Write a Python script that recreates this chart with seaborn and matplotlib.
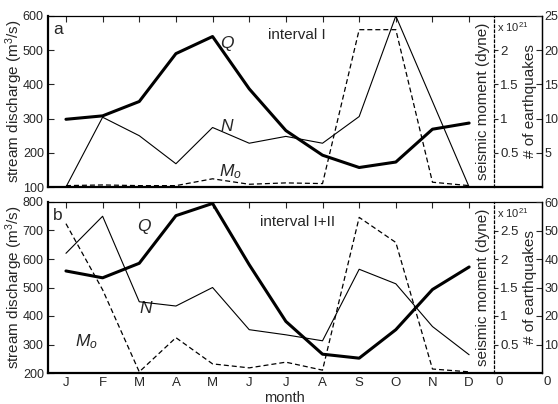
import matplotlib
matplotlib.use("Agg")
import matplotlib.pyplot as plt
import seaborn as sns
import pandas as pd

# month axis
months = ["J", "F", "M", "A", "M", "J", "J", "A", "S", "O", "N", "D"]
month_pos = list(range(12))

# interval I
q_interval1 = [298, 308, 350, 490, 540, 387, 265, 193, 157, 173, 269, 287]
n_interval1 = [0, 10.2, 7.5, 3.4, 8.7, 6.4, 7.4, 6.4, 10.3, 25, 12.5, 0]
mo_interval1 = [0.02, 0.03, 0.02, 0.02, 0.12, 0.04, 0.06, 0.05, 2.30, 2.30, 0.07, 0.02]

# interval I+II
q_interval12 = [558, 534, 585, 752, 795, 580, 381, 266, 252, 352, 493, 572]
n_interval12 = [42, 55, 25, 23.5, 30, 15.2, 13.4, 11.3, 36.4, 31.3, 16.3, 6.4]
mo_interval12 = [2.62, 1.46, 0.02, 0.62, 0.16, 0.09, 0.19, 0.05, 2.73, 2.29, 0.07, 0.02]

# axis ranges / ticks
q_ticks1 = [100, 200, 300, 400, 500, 600]
q_ticks12 = [200, 300, 400, 500, 600, 700, 800]
n_ticks1 = [5, 10, 15, 20, 25]
n_ticks12 = [10, 20, 30, 40, 50, 60]
mo_ticks1 = [0.5, 1, 1.5, 2]
mo_ticks12 = [0.5, 1, 1.5, 2, 2.5]

sns.set_theme(style="white")
plt.rcParams["font.family"] = ["Liberation Sans", "DejaVu Sans"]
plt.rcParams["mathtext.fontset"] = "custom"
plt.rcParams["mathtext.rm"] = "Liberation Sans"
plt.rcParams["mathtext.it"] = "Liberation Sans:italic"
plt.rcParams["axes.edgecolor"] = "black"

fig = plt.figure(figsize=(5.58, 4.04), dpi=100)

XLIM = (-0.49, 12.98)
MO_SPINE_X = 11.68


def draw_panel(rect, q, n, mo, q_ticks, n_ticks, n_max, mo_ticks, mo_max,
               letter, title, title_y, q_xy, n_xy, mo_xy, bottom):
    ax = fig.add_axes(rect)
    df = pd.DataFrame({"month": month_pos, "Q": q, "N": n, "Mo": mo})

    sns.lineplot(data=df, x="month", y="Q", ax=ax, color="black",
                 linewidth=2.2, legend=False)
    ax.set_xlim(*XLIM)
    ax.set_ylim(q_ticks[0], q_ticks[-1])
    ax.set_yticks(q_ticks)
    ax.set_xticks(month_pos)
    ax.set_xticklabels(months if bottom else [])
    ax.tick_params(axis="x", direction="in", top=True, length=4, pad=3,
                   labelsize=9.5, width=0.8)
    ax.tick_params(axis="y", direction="in", length=4, pad=3,
                   labelsize=9, width=0.8)
    ax.set_ylabel("")
    ax.text(-0.069, 0.5, "stream discharge (m$^3$/s)", transform=ax.transAxes,
            rotation=90, ha="center", va="center", fontsize=11)
    if bottom:
        ax.set_xlabel("month", fontsize=10.5)
        ax.xaxis.set_label_coords(0.478, -0.107)
    else:
        ax.set_xlabel("")
    for side in ["top", "right"]:
        ax.spines[side].set_linewidth(0.9)
    for side in ["left", "bottom"]:
        ax.spines[side].set_linewidth(1.6)

    # number of earthquakes (right axis)
    ax_n = ax.twinx()
    sns.lineplot(data=df, x="month", y="N", ax=ax_n, color="black",
                 linewidth=0.8, legend=False)
    ax_n.set_ylim(0, n_max)
    ax_n.set_yticks(n_ticks)
    ax_n.tick_params(axis="y", direction="in", length=4, pad=2,
                     labelsize=9, width=0.8)
    for side in ["left", "top", "bottom"]:
        ax_n.spines[side].set_visible(False)
    ax_n.spines["right"].set_linewidth(0.9)
    ax_n.set_ylabel("")
    ax.text(0.976, 0.5, "# of earthquakes", transform=ax.transAxes,
            rotation=90, ha="center", va="center", fontsize=11)

    # seismic moment (inner dashed axis)
    ax_m = ax.twinx()
    sns.lineplot(data=df, x="month", y="Mo", ax=ax_m, color="black",
                 linewidth=0.9, linestyle=(0, (4, 2.4)), legend=False)
    ax_m.set_ylim(0, mo_max)
    ax_m.set_yticks(mo_ticks)
    ax_m.set_yticklabels([f"{t:g}" for t in mo_ticks])
    for side in ["left", "top", "bottom"]:
        ax_m.spines[side].set_visible(False)
    sp = ax_m.spines["right"]
    sp.set_position(("data", MO_SPINE_X))
    sp.set_linestyle((0, (2, 2)))
    sp.set_linewidth(0.9)
    ax_m.tick_params(axis="y", direction="out", length=3, pad=1.5,
                     labelsize=9.5, width=0.8)
    ax_m.set_ylabel("")
    ax.text(0.881, 0.5, "seismic moment (dyne)", transform=ax.transAxes,
            rotation=90, ha="center", va="center", fontsize=11)
    ax.text(0.909, 0.936, r"x 10$^{21}$", transform=ax.transAxes,
            ha="left", va="center", fontsize=8)

    if bottom:
        ax.text(0.913, -0.015, "0", transform=ax.transAxes,
                ha="center", va="top", fontsize=9.5)
        ax.text(1.012, -0.015, "0", transform=ax.transAxes,
                ha="center", va="top", fontsize=9.5)

    # panel annotations
    ax.text(0.010, 0.922, letter, transform=ax.transAxes,
            ha="left", va="center", fontsize=12.5)
    ax.text(0.505, title_y, title, transform=ax.transAxes,
            ha="center", va="center", fontsize=11)
    ax.text(*q_xy, "$Q$", transform=ax.transAxes,
            ha="center", va="center", fontsize=12.5)
    ax.text(*n_xy, "$N$", transform=ax.transAxes,
            ha="center", va="center", fontsize=12.5)
    ax.text(*mo_xy, "$M_o$", transform=ax.transAxes,
            ha="center", va="center", fontsize=12.5)
    return ax


L = 48 / 558
W = (541.7 - 48) / 558
H = 171 / 404

draw_panel([L, 1 - 187 / 404, W, H], q_interval1, n_interval1, mo_interval1,
           q_ticks1, n_ticks1, 25, mo_ticks1, 2.5,
           "a", "interval I", 0.889,
           (0.363, 0.842), (0.363, 0.357), (0.369, 0.090), bottom=False)

draw_panel([L, 1 - 373 / 404, W, H], q_interval12, n_interval12, mo_interval12,
           q_ticks12, n_ticks12, 60, mo_ticks12, 3.0,
           "b", "interval I+II", 0.883,
           (0.196, 0.854), (0.199, 0.380), (0.077, 0.181), bottom=True)

fig.savefig("out.png", dpi=100, facecolor="white")
